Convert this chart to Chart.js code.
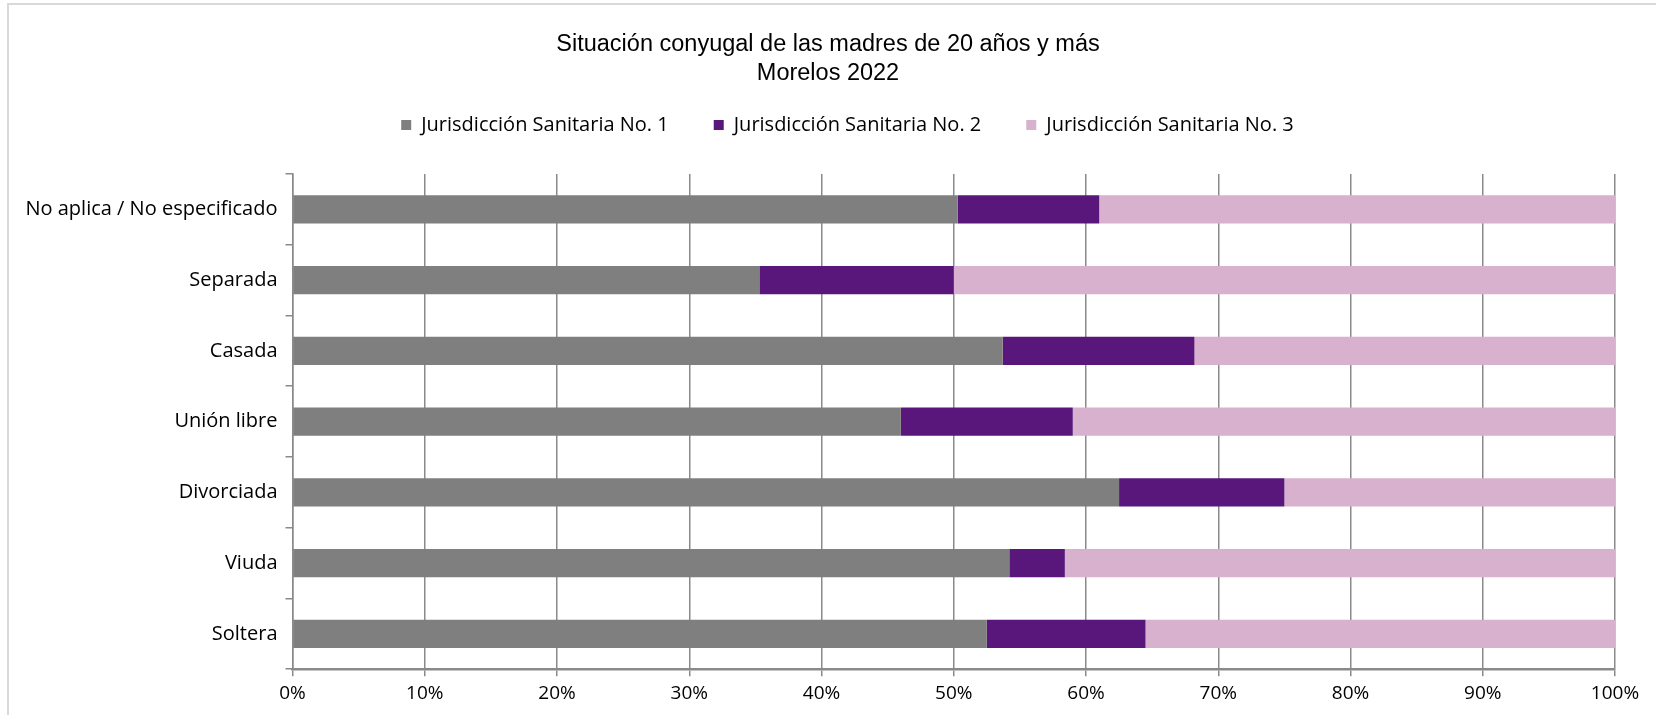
<!DOCTYPE html>
<html>
<head>
<meta charset="utf-8">
<script src="https://cdn.jsdelivr.net/npm/chart.js@4.4.0/dist/chart.umd.min.js"></script>
<style>
  html, body { margin: 0; padding: 0; background: #fff; overflow: hidden; }
  #frame { position: absolute; left: 7px; top: 3px; width: 1700px; height: 800px; border: 2px solid #d9d9d9; }
  #wrap { position: absolute; left: 0; top: 0; width: 1656px; height: 715px; }
</style>
</head>
<body>
<div id="frame"></div>
<div id="wrap"><canvas id="chart"></canvas></div>
<script>
// categories top to bottom
const categories = ['No aplica / No especificado', 'Separada', 'Casada', 'Unión libre', 'Divorciada', 'Viuda', 'Soltera'];
const seriesNames = ['Jurisdicción Sanitaria No. 1', 'Jurisdicción Sanitaria No. 2', 'Jurisdicción Sanitaria No. 3'];
const js1 = [50.3, 35.3, 53.7, 46.0, 62.5, 54.2, 52.5];
const js2 = [10.7, 14.7, 14.5, 13.0, 12.5, 4.2, 12.0];
const js3 = [39.0, 50.0, 31.8, 41.0, 25.0, 41.6, 35.5];
const xTicks = [0, 10, 20, 30, 40, 50, 60, 70, 80, 90, 100];
const colors = ['#7f7f7f', '#59177b', '#d7b1cd'];

Chart.defaults.font.family = "'Open Sans', sans-serif";
Chart.defaults.color = '#000';

// title/legend spacing the way the original sheet lays them out
const boxSpacing = {
    id: 'boxSpacing',
    beforeLayout(chart) {
        const fixHeight = (box, h) => {
            if (!box || box._patched) return;
            const update = box.update.bind(box);
            box.update = function (...args) { const r = update(...args); this.height = h; this.bottom = this.top + h; return r; };
            box._patched = true;
        };
        fixHeight(chart.titleBlock, 70);
        fixHeight(chart.legend, 104);
    },
    afterLayout(chart) {
        // centre title and legend the way the sheet does
        if (chart.titleBlock) { chart.titleBlock.left = 41; chart.titleBlock.right = 1615; }
        if (chart.legend) { chart.legend.left = 80; chart.legend.right = 1615; }
    }
};

const gridColor = '#8a8a8a';

new Chart(document.getElementById('chart'), {
    type: 'bar',
    data: {
        labels: categories,
        datasets: [js1, js2, js3].map((d, i) => ({
            label: seriesNames[i],
            data: d,
            backgroundColor: colors[i],
            borderWidth: 0,
            barPercentage: 0.8,
            categoryPercentage: 0.5
        }))
    },
    options: {
        indexAxis: 'y',
        responsive: true,
        maintainAspectRatio: false,
        animation: false,
        layout: { padding: { left: 10, right: 41, top: 0, bottom: 4 } },
        scales: {
            x: {
                stacked: true,
                min: 0,
                max: 100,
                afterBuildTicks: scale => { scale.ticks = xTicks.map(v => ({ value: v })); },
                ticks: {
                    callback: v => v + '%',
                    font: { size: 19 },
                    padding: 6,
                    maxRotation: 0
                },
                grid: { color: gridColor, lineWidth: 1.5, tickLength: 7 },
                border: { color: gridColor, width: 2.5 }
            },
            y: {
                stacked: true,
                afterFit: scale => { scale.width = 282.5; },
                ticks: { font: { size: 20 }, padding: 8 },
                grid: { offset: true, drawOnChartArea: false, color: gridColor, lineWidth: 1.5, tickLength: 7 },
                border: { color: gridColor, width: 1.5 }
            }
        },
        plugins: {
            title: {
                display: true,
                text: ['Situación conyugal de las madres de 20 años y más', 'Morelos 2022'],
                font: { family: "'Liberation Sans', Arial, sans-serif", size: 23.5, weight: 'normal', lineHeight: 29 / 23.5 },
                padding: { top: 30.5, bottom: 0 },
                color: '#000'
            },
            legend: {
                position: 'top',
                labels: {
                    boxWidth: 10,
                    boxHeight: 10,
                    padding: 45,
                    font: { size: 20 },
                    color: '#000'
                }
            },
            tooltip: { enabled: false }
        }
    },
    plugins: [boxSpacing]
});
</script>
</body>
</html>
